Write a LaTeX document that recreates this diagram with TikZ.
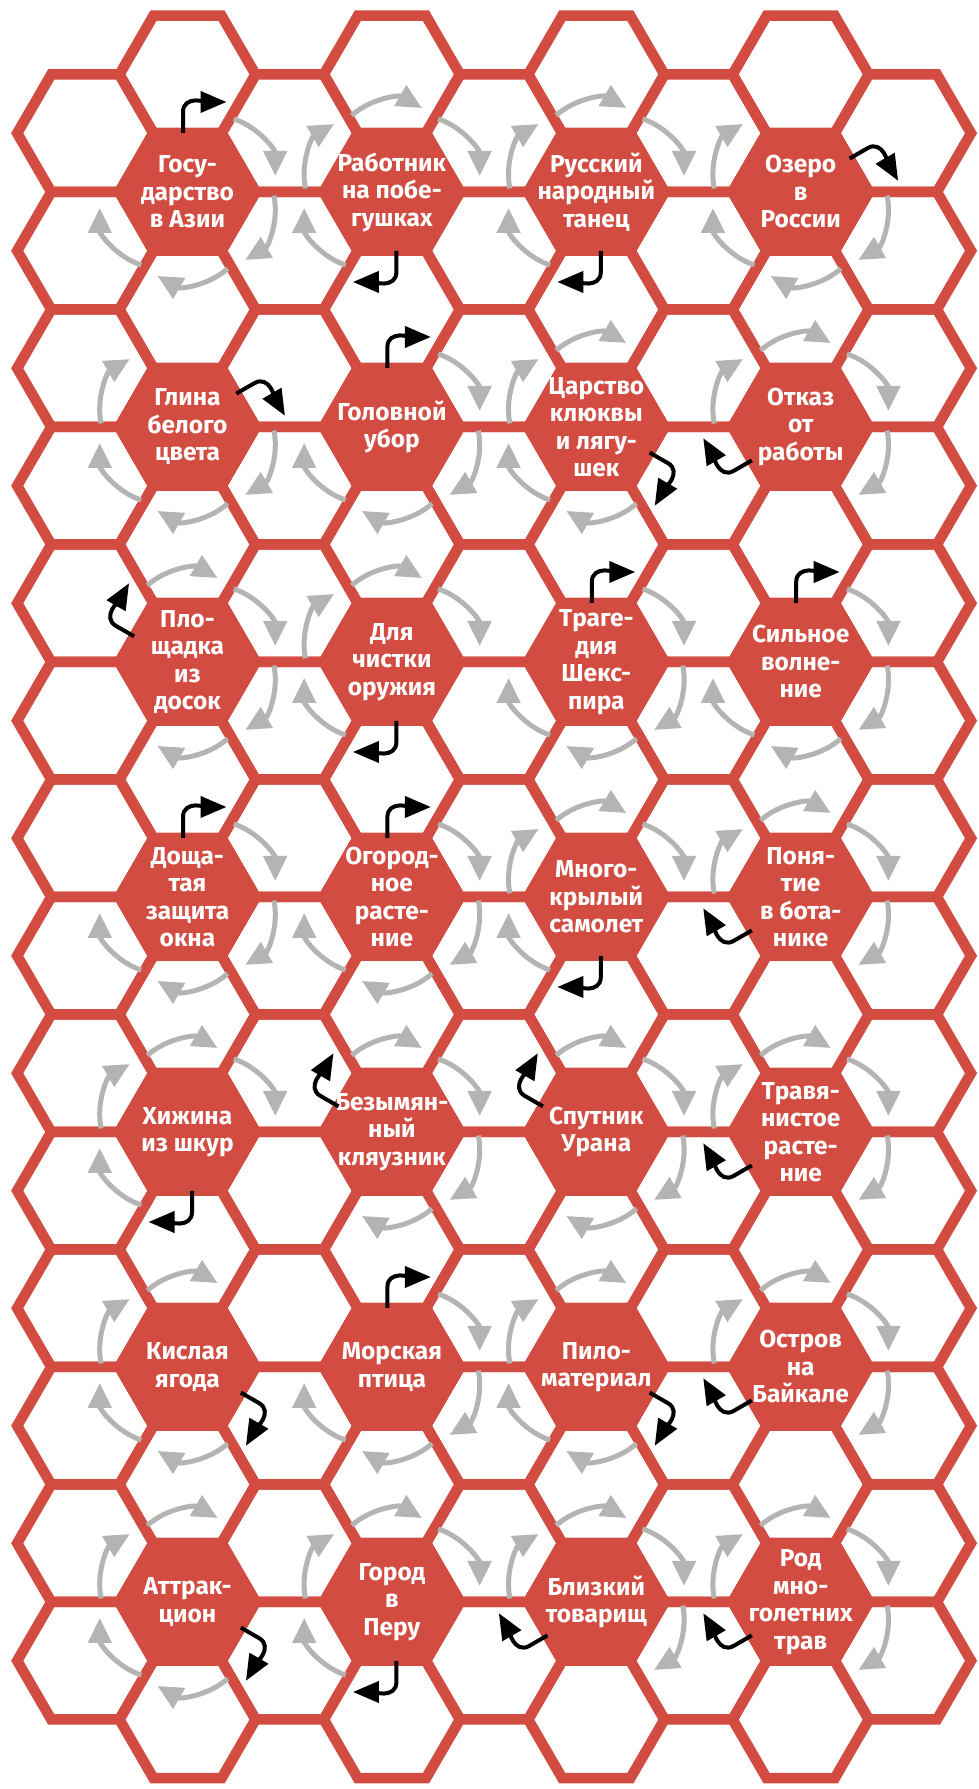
\documentclass[tikz,border=0pt]{standalone}
\usepackage{fontspec}
\setmainfont{Fira Sans}
\usepackage{tikz}
\usetikzlibrary{positioning,arrows.meta,calc}

\definecolor{hexred}{RGB}{210,76,66}
\definecolor{arrowgray}{RGB}{180,180,178}

\tikzset{
  hexline/.style={draw=hexred,line width=10.5pt},
  redhex/.style={fill=hexred,draw=hexred,line width=10.5pt},
  cluetext/.style={text=white,align=center,inner sep=0pt,
    font=\bfseries\fontsize{24.5}{27.5}\selectfont},
  nextarrow/.style={draw=arrowgray,line width=5pt,-{Triangle[length=25pt,width=23pt]}},
  firstarrow/.style={draw=black,line width=4pt,-{Triangle[length=26pt,width=21pt]}},
  cell/.pic={\draw[hexline] (68.1,0)--(34.05,58.75)--(-34.05,58.75)--(-68.1,0)
    --(-34.05,-58.75)--(34.05,-58.75)--cycle;},
  redcell/.pic={\filldraw[redhex] (68.1,0)--(34.05,58.75)--(-34.05,58.75)--(-68.1,0)
    --(-34.05,-58.75)--(34.05,-58.75)--cycle;},
}

\begin{document}
\begin{tikzpicture}[x=1pt,y=1pt]
  \useasboundingbox (0,0) rectangle (978,1789);
  % honeycomb
  \foreach \k in {0,2,4,6}
    \foreach \r in {-2,0,...,26}
      \pic at ({187.5+102.2*\k},{1597-58.75*\r}) {cell};
  \foreach \k in {-1,1,3,5,7}
    \foreach \r in {-1,1,...,25}
      \pic at ({187.5+102.2*\k},{1597-58.75*\r}) {cell};
  % clues: column/row/first cell (0 top, then clockwise)/text
  \foreach \i/\j/\s/\txt in {
      0/0/0/{Госу-\\дарство\\в Азии},
      1/0/3/{Работник\\на побе-\\гушках},
      2/0/3/{Русский\\народный\\танец},
      3/0/1/{Озеро\\в\\России},
      0/1/1/{Глина\\белого\\цвета},
      1/1/0/{Головной\\убор},
      2/1/2/{Царство\\клюквы\\и лягу-\\шек},
      3/1/4/{Отказ\\от\\работы},
      0/2/5/{Пло-\\щадка\\из\\досок},
      1/2/3/{Для\\чистки\\оружия},
      2/2/0/{Траге-\\дия\\Шекс-\\пира},
      3/2/0/{Сильное\\волне-\\ние},
      0/3/0/{Доща-\\тая\\защита\\окна},
      1/3/0/{Огород-\\ное\\расте-\\ние},
      2/3/3/{Много-\\крылый\\самолет},
      3/3/4/{Поня-\\тие\\в бота-\\нике},
      0/4/3/{Хижина\\из шкур},
      1/4/5/{Безымян-\\ный\\кляузник},
      2/4/5/{Спутник\\Урана},
      3/4/4/{Травя-\\нистое\\расте-\\ние},
      0/5/2/{Кислая\\ягода},
      1/5/0/{Морская\\птица},
      2/5/2/{Пило-\\материал},
      3/5/4/{Остров\\на\\Байкале},
      0/6/2/{Аттрак-\\цион},
      1/6/3/{Город\\в\\Перу},
      2/6/4/{Близкий\\товарищ},
      3/6/4/{Род\\мно-\\голетних\\трав}} {
    \coordinate (c) at ({187.5+204.4*\i},{1597-235*\j});
    \pic at (c) {redcell};
    \node[cluetext] (clue\i\j) at (c) {\txt};
    % black start arrow
    \pgfmathsetmacro\th{90-60*\s}
    \pgfmathsetmacro\thin{\th+90}
    \draw[firstarrow] ($(c)+(\th:59)+(\th+90:4.5)$) -- ($(c)+(\th:80)+(\th+90:4.5)$)
      to[out=\th,in=\thin] ($(c)+(\th:90)+(\th-90:39)$);
    % grey arrows to the next cells
    \foreach \n in {1,...,4} {
      \pgfmathsetmacro\ph{\th-60*\n}
      \draw[nextarrow] ($(c)+(\ph:32)+(\ph+42:60)$)
        arc[start angle=\ph+42,end angle=\ph-30,radius=60];
    }
  }
\end{tikzpicture}
\end{document}
